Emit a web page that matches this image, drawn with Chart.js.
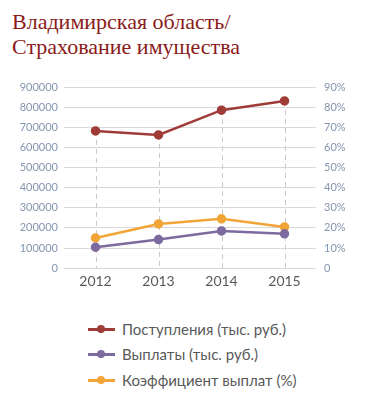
<!DOCTYPE html>
<html><head><meta charset="utf-8">
<script src="https://cdn.jsdelivr.net/npm/chart.js@4"></script>
<style>
html,body{margin:0;padding:0;background:#fff;width:370px;height:401px;overflow:hidden;}
#title{position:absolute;left:12px;top:9px;font-family:"Liberation Serif",serif;font-size:22px;line-height:25px;color:#8B1A1A;}
#wrap{position:absolute;left:0;top:70px;width:370px;height:225px;}
#legend{position:absolute;left:88px;top:316px;font-family:Lato,"Open Sans",sans-serif;font-size:15px;color:#595959;}
.li{height:25.5px;display:flex;align-items:center;}
.mk{position:relative;width:27px;height:10px;margin-right:7px;}
.mk .ln{position:absolute;left:0;right:0;top:4px;height:3px;}
.mk .pt{position:absolute;left:9px;top:1px;width:8px;height:8px;border-radius:50%;}
</style></head>
<body>
<div id="title">Владимирская область/<br>Страхование имущества</div>
<div id="wrap"><canvas id="c"></canvas></div>
<div id="legend"></div>
<script>
const categories = ['2012','2013','2014','2015'];
const receipts = [682000, 662000, 785000, 831000];
const payouts = [104000, 142000, 185000, 171000];
const ratio = [15, 22, 24.5, 20.5];
const seriesNames = ['Поступления (тыс. руб.)','Выплаты (тыс. руб.)','Коэффициент выплат (%)'];
const colors = ['#A03C38','#7D6A9E','#F2A537'];

const dropLines = {
  id:'dropLines',
  beforeDatasetsDraw(chart){
    const ctx = chart.ctx, area = chart.chartArea;
    const n = categories.length;
    ctx.save();
    ctx.strokeStyle = '#c9c9c9'; ctx.lineWidth = 1; ctx.setLineDash([5,4]);
    for(let i=0;i<n;i++){
      let minY = Infinity, x = null;
      chart.data.datasets.forEach((d,di)=>{
        const p = chart.getDatasetMeta(di).data[i];
        if(p){ x = p.x; if(p.y<minY) minY = p.y; }
      });
      ctx.beginPath(); ctx.moveTo(Math.round(x)+0.5, minY); ctx.lineTo(Math.round(x)+0.5, area.bottom); ctx.stroke();
    }
    ctx.restore();
  }
};

const mk = (label, data, color, axis) => ({label, data, borderColor:color, backgroundColor:color,
  pointBackgroundColor:color, pointBorderColor:color, borderWidth:2.5, pointRadius:3.5, yAxisID:axis, tension:0});

const chart = new Chart(document.getElementById('c'), {
  type:'line',
  data:{labels:categories, datasets:[
    mk(seriesNames[0], receipts, colors[0], 'y'),
    mk(seriesNames[1], payouts, colors[1], 'y'),
    mk(seriesNames[2], ratio, colors[2], 'y1')
  ]},
  options:{
    responsive:true, maintainAspectRatio:false, animation:false,
    layout:{padding:{top:17,bottom:0,left:0,right:0}},
    plugins:{legend:{display:false}, tooltip:{enabled:false}},
    scales:{
      x:{offset:true, grid:{display:false, drawTicks:false}, border:{display:false},
         ticks:{color:'#595959', font:{family:'Lato', size:14}, padding:5}},
      y:{position:'left', min:0, max:900000, border:{display:false},
         grid:{color:'#d9d9d9', drawTicks:false},
         ticks:{stepSize:100000, color:'#8496B0', font:{family:'Lato', size:11}, padding:6,
           callback:v=>String(v)},
         afterFit(s){ s.width = 64; }},
      y1:{position:'right', min:0, max:90, border:{display:false},
         grid:{display:false, drawTicks:false},
         ticks:{stepSize:10, color:'#8496B0', font:{family:'Lato', size:11}, padding:8,
           callback:v=> v===0 ? '0' : v+'%'},
         afterFit(s){ s.width = 54; }}
    }
  },
  plugins:[dropLines]
});

const leg = document.getElementById('legend');
chart.data.datasets.forEach(d=>{
  const li = document.createElement('div'); li.className='li';
  li.innerHTML = '<div class="mk"><div class="ln" style="background:'+d.borderColor+'"></div><div class="pt" style="background:'+d.borderColor+'"></div></div><span></span>';
  li.querySelector('span').textContent = d.label;
  leg.appendChild(li);
});
</script>
</body></html>
